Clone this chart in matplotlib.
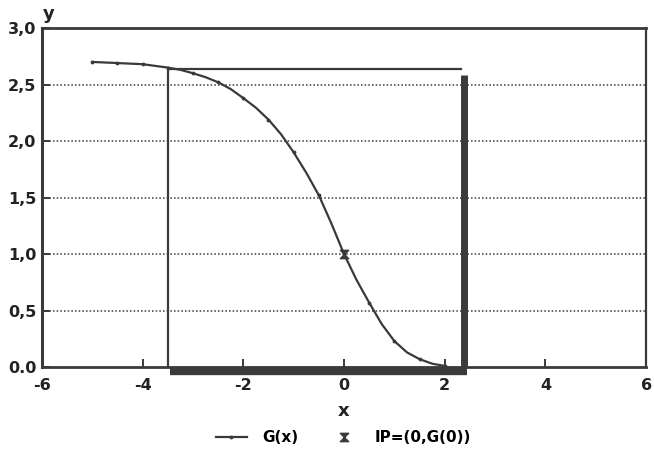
import matplotlib.pyplot as plt
from matplotlib.path import Path

plt.rcParams['font.family'] = ['DejaVu Sans']
plt.rcParams['font.weight'] = 'bold'

# G(x) sampled every 0.25 (markers drawn on every 0.5)
gx = [-5.0, -4.5, -4.0, -3.5, -3.25, -3.0, -2.75, -2.5, -2.25, -2.0,
      -1.75, -1.5, -1.25, -1.0, -0.75, -0.5, -0.25, 0.0, 0.25, 0.5,
      0.75, 1.0, 1.25, 1.5, 1.75, 2.0]
gy = [2.70, 2.69, 2.68, 2.65, 2.63, 2.60, 2.565, 2.52, 2.46, 2.38,
      2.295, 2.19, 2.06, 1.90, 1.72, 1.52, 1.27, 1.00, 0.77, 0.57,
      0.38, 0.23, 0.13, 0.07, 0.03, 0.01]
mark_idx = [0, 1, 2, 3, 5, 7, 9, 11, 13, 15, 17, 19, 21, 23, 25]

# inflection point
ip_x = [0.0]
ip_y = [1.0]

# interval box and its markers
box_left, box_right, box_top = -3.5, 2.33, 2.64
bar_x, bar_top = 2.38, 2.58
base_left, base_right = -3.45, 2.45

xticks = [-6, -4, -2, 0, 2, 4, 6]
yticks = [0.0, 0.5, 1.0, 1.5, 2.0, 2.5, 3.0]
ytick_labels = ['0.0', '0,5', '1,0', '1,5', '2,0', '2,5', '3,0']

ink = '#3a3a3a'

fig = plt.figure(figsize=(6.54, 4.67), dpi=100)
ax = fig.add_axes([0.064, 0.214, 0.924, 0.726])

ax.set_xlim(-6, 6)
ax.set_ylim(0, 3)

for y in yticks[1:-1]:
    ax.axhline(y, color=ink, lw=1.1, ls=(0, (1, 1.4)), zorder=1)

# interval box
ax.plot([box_left, box_left, box_right], [0, box_top, box_top],
        color=ink, lw=1.6, zorder=2)
ax.plot([bar_x, bar_x], [0, bar_top], color=ink, lw=5, solid_capstyle='butt',
        zorder=3)
ax.plot([base_left, base_right], [-0.035, -0.035], color=ink, lw=6,
        solid_capstyle='butt', clip_on=False, zorder=3)

ax.plot(gx, gy, color=ink, lw=1.6, marker='.', ms=3.5, markevery=mark_idx,
        label='G(x)', zorder=4)

hourglass = Path([(-1, 1), (1, 1), (-1, -1), (1, -1), (-1, 1)],
                 [Path.MOVETO, Path.LINETO, Path.LINETO, Path.LINETO,
                  Path.CLOSEPOLY])
ax.plot(ip_x, ip_y, ls='none', marker=hourglass, ms=6, color=ink,
        label='IP=(0,G(0))', zorder=5)

ax.set_xticks(xticks)
ax.set_xticklabels([str(t) for t in xticks])
ax.set_yticks(yticks)
ax.set_yticklabels(ytick_labels)
ax.tick_params(axis='both', direction='in', length=6, width=1.4, colors=ink,
               labelcolor='#222222', labelsize=11.5)
ax.tick_params(axis='x', pad=8)
ax.tick_params(axis='y', pad=4)
for lab in ax.get_xticklabels() + ax.get_yticklabels():
    lab.set_fontweight('bold')

for side, w in [('left', 2.2), ('bottom', 2.0), ('top', 2.0), ('right', 1.6)]:
    ax.spines[side].set_linewidth(w)
    ax.spines[side].set_color(ink)

ax.set_xlabel('x', fontsize=13, fontweight='bold', labelpad=6, color='#222222')
ax.annotate('y', xy=(0.002, 1.015), xycoords='axes fraction', fontsize=13,
            fontweight='bold', color='#222222', ha='left', va='bottom')

fig.legend(loc='center', bbox_to_anchor=(0.525, 0.063), ncol=2, frameon=False,
           prop={'size': 11, 'weight': 'bold'}, handlelength=2.0,
           columnspacing=2.0, handletextpad=1.0)

fig.savefig('out.png', dpi=100)
